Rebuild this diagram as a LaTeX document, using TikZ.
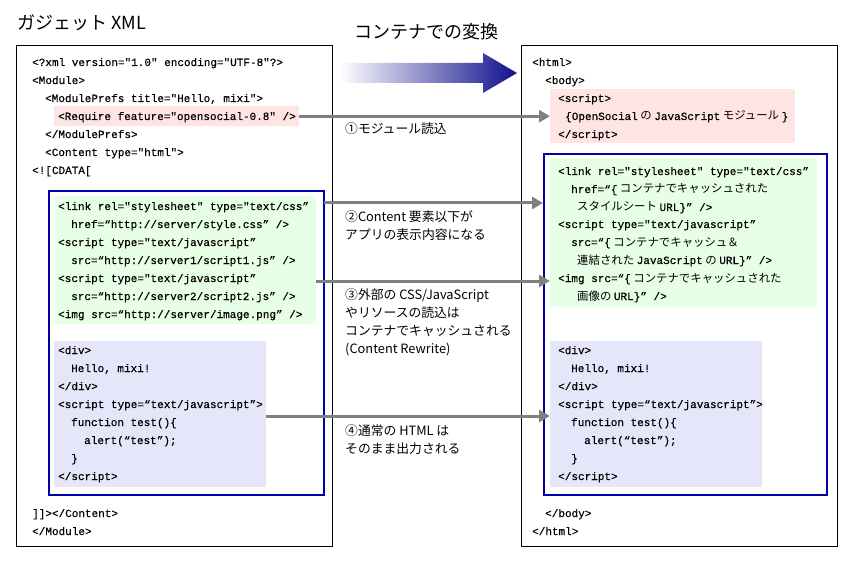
\documentclass[tikz,border=0pt]{standalone}
\usepackage{fontspec}
\setmainfont{Noto Sans CJK JP}
\setmonofont[FakeBold=0.4]{Liberation Mono}
\newfontfamily\jpfont{Noto Sans CJK JP}
\usetikzlibrary{arrows.meta}

\definecolor{pinkbg}{RGB}{255,228,228}
\definecolor{greenbg}{RGB}{230,255,230}
\definecolor{lavbg}{RGB}{230,230,250}
\definecolor{frameblue}{RGB}{0,0,165}
\definecolor{flowgray}{RGB}{128,128,128}
\definecolor{navyend}{RGB}{16,16,140}

\newcommand{\jp}[1]{{\jpfont\fontsize{11.4}{14}\selectfont #1}}

\tikzset{
  panel/.style={draw=black, line width=1pt, inner sep=0pt, anchor=north west},
  frame/.style={draw=frameblue, line width=2pt, inner sep=0pt, anchor=north west},
  bg/.style={fill=#1, inner sep=0pt, anchor=north west},
  code/.style={anchor=base west, inner sep=0pt, font=\ttfamily\fontsize{11}{13}\selectfont},
  note/.style={anchor=north west, inner sep=0pt, align=left, font=\fontsize{12.8}{18}\selectfont},
  heading/.style={inner sep=0pt, font=\fontsize{18}{20}\selectfont},
  flow/.style={draw=flowgray, line width=3pt, -{Triangle[length=11pt,width=12pt]}},
}

\begin{document}
\begin{tikzpicture}[x=1pt, y=-1pt]
    \useasboundingbox (0,0) rectangle (850,561);

    % Draw titles
    \node[heading, anchor=west] (gadgettitle) at (17,23) {ガジェット XML};
    \node[heading] (convtitle) at (426,32) {コンテナでの変換};

    % Draw conversion arrow
    \shade[left color=white, right color=navyend]
        (340,63) -- (483,63) -- (483,53) -- (517,73) -- (483,93) -- (483,83) -- (340,83) -- cycle;

    % Draw panels
    \node[panel, minimum width=316pt, minimum height=501pt] (gadget) at (16,45) {};
    \node[panel, minimum width=316pt, minimum height=501pt] (result) at (521,45) {};

    % Draw boxes for gadget XML
    \node[bg=pinkbg, minimum width=245pt, minimum height=20pt] (lpink) at (54,106) {};
    \node[bg=greenbg, minimum width=262pt, minimum height=128pt] (lgreen) at (54,196) {};
    \node[bg=lavbg, minimum width=212pt, minimum height=146pt] (llav) at (54,341) {};
    \node[frame, minimum width=275pt, minimum height=304pt] (lblue) at (48,190) {};

    % Draw boxes for converted HTML
    \node[bg=pinkbg, minimum width=245pt, minimum height=54pt] (rpink) at (550,89) {};
    \node[bg=greenbg, minimum width=267pt, minimum height=149pt] (rgreen) at (550,158) {};
    \node[bg=lavbg, minimum width=212pt, minimum height=146pt] (rlav) at (550,341) {};
    \node[frame, minimum width=283pt, minimum height=341pt] (rblue) at (543,153) {};

    % Gadget XML code
    \node[code] (l1) at (32,66) {<?xml version="1.0" encoding="UTF-8"?>};
    \node[code] (l2) at (32,84) {<Module>};
    \node[code] (l3) at (45,102) {<ModulePrefs title="Hello, mixi">};
    \node[code] (l4) at (58,120) {<Require feature="opensocial-0.8" />};
    \node[code] (l5) at (45,138) {</ModulePrefs>};
    \node[code] (l6) at (45,156) {<Content type="html">};
    \node[code] (l7) at (32,174) {<![CDATA[};
    \node[code] (g1) at (58,210) {<link rel="stylesheet" type="text/css”};
    \node[code] (g2) at (71,228) {href=“http://server/style.css” />};
    \node[code] (g3) at (58,246) {<script type="text/javascript”};
    \node[code] (g4) at (71,264) {src=“http://server1/script1.js” />};
    \node[code] (g5) at (58,282) {<script type="text/javascript”};
    \node[code] (g6) at (71,300) {src=“http://server2/script2.js” />};
    \node[code] (g7) at (58,318) {<img src=“http://server/image.png” />};
    \node[code] (v1) at (58,354) {<div>};
    \node[code] (v2) at (71,372) {Hello, mixi!};
    \node[code] (v3) at (58,390) {</div>};
    \node[code] (v4) at (58,408) {<script type=“text/javascript”>};
    \node[code] (v5) at (71,426) {function test()\{};
    \node[code] (v6) at (84,444) {alert(“test”);};
    \node[code] (v7) at (71,462) {\}};
    \node[code] (v8) at (58,480) {</script>};
    \node[code] (l8) at (32,517) {]]></Content>};
    \node[code] (l9) at (32,535) {</Module>};

    % Converted HTML code
    \node[code] (h1) at (532,66) {<html>};
    \node[code] (h2) at (545,84) {<body>};
    \node[code] (p1) at (558,102) {<script>};
    \node[code] (p2) at (565,120) {\{OpenSocial\jp{ の }JavaScript\jp{ モジュール }\}};
    \node[code] (p3) at (558,138) {</script>};
    \node[code] (c1) at (558,175) {<link rel="stylesheet" type="text/css”};
    \node[code] (c2) at (571,193) {href=“\{\jp{ コンテナでキャッシュされた}};
    \node[code] (c3) at (577,211) {\jp{スタイルシート }URL\}” />};
    \node[code] (c4) at (558,228) {<script type="text/javascript”};
    \node[code] (c5) at (571,246) {src=“\{\jp{ コンテナでキャッシュ＆}};
    \node[code] (c6) at (577,264) {\jp{連結された }JavaScript\jp{ の }URL\}” />};
    \node[code] (c7) at (558,282) {<img src=“\{\jp{ コンテナでキャッシュされた}};
    \node[code] (c8) at (577,300) {\jp{画像の }URL\}” />};
    \node[code] (w1) at (558,354) {<div>};
    \node[code] (w2) at (571,372) {Hello, mixi!};
    \node[code] (w3) at (558,390) {</div>};
    \node[code] (w4) at (558,408) {<script type=“text/javascript”>};
    \node[code] (w5) at (571,426) {function test()\{};
    \node[code] (w6) at (584,444) {alert(“test”);};
    \node[code] (w7) at (571,462) {\}};
    \node[code] (w8) at (558,480) {</script>};
    \node[code] (h3) at (545,517) {</body>};
    \node[code] (h4) at (532,535) {</html>};

    % Draw step labels
    \node[note] (step1) at (345,122) {①モジュール読込};
    \node[note] (step2) at (345,210) {②Content 要素以下が\\アプリの表示内容になる};
    \node[note] (step3) at (345,288) {③外部の CSS/JavaScript\\やリソースの読込は\\コンテナでキャッシュされる\\(Content Rewrite)};
    \node[note] (step4) at (345,424) {④通常の HTML は\\そのまま出力される};

    % Draw flow arrows
    \coordinate (cdata) at (324,203);
    \coordinate (extern) at (316,281);
    \coordinate (plain) at (266,416);
    \draw[flow] (lpink.east) -- (rpink.west);
    \draw[flow] (cdata) -- (cdata -| rblue.west);
    \draw[flow] (extern) -- (extern -| rgreen.west);
    \draw[flow] (plain) -- (plain -| rlav.west);
\end{tikzpicture}
\end{document}
